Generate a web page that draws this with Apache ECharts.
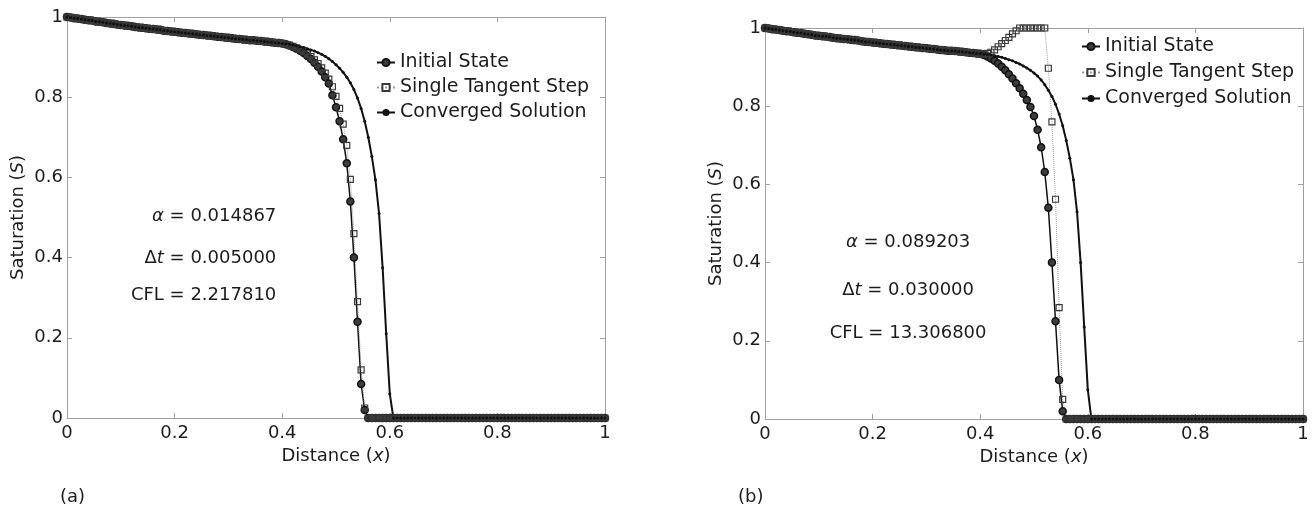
<!DOCTYPE html>
<html>
<head>
<meta charset="utf-8">
<script src="https://cdn.jsdelivr.net/npm/echarts@6/dist/echarts.min.js"></script>
<style>
  html, body { margin: 0; padding: 0; background: #ffffff; }
  #chart { width: 1315px; height: 512px; }
</style>
</head>
<body>
<div id="chart"></div>
<script>
// Saturation profiles S(x) on a uniform mesh of N_CELLS cells over 0 <= x <= 1.
const N_CELLS = 150;
const SERIES_NAMES = ['Initial State', 'Single Tangent Step', 'Converged Solution'];
const TICKS = [0, 0.2, 0.4, 0.6, 0.8, 1];

// ---- panel (a): alpha = 0.014867, dt = 0.005 ----
const A_INIT = [
  1.000, .999, .997, .996, .995, .993, .992, .991, .989, .988,
  .987, .985, .984, .983, .981, .980, .979, .978, .977, .975,
  .974, .973, .972, .971, .970, .969, .968, .966, .965, .964,
  .963, .962, .961, .960, .959, .958, .957, .956, .955, .954,
  .953, .952, .951, .950, .949, .948, .947, .946, .945, .944,
  .943, .942, .942, .941, .940, .939, .938, .937, .936, .935,
  .934, .932, .929, .925, .921, .916, .910, .903, .895, .886,
  .876, .864, .850, .834, .805, .775, .740, .695, .635, .540,
  .400, .240, .085, .020, 0, 0, 0, 0, 0, 0,
  0, 0, 0, 0, 0, 0, 0, 0, 0, 0,
  0, 0, 0, 0, 0, 0, 0, 0, 0, 0,
  0, 0, 0, 0, 0, 0, 0, 0, 0, 0,
  0, 0, 0, 0, 0, 0, 0, 0, 0, 0,
  0, 0, 0, 0, 0, 0, 0, 0, 0, 0,
  0, 0, 0, 0, 0, 0, 0, 0, 0, 0,
  0
];
const A_STEP = [
  1.000, .999, .997, .996, .995, .993, .992, .991, .989, .988,
  .987, .985, .984, .983, .981, .980, .979, .978, .977, .975,
  .974, .973, .972, .971, .970, .969, .968, .966, .965, .964,
  .963, .962, .961, .960, .959, .958, .957, .956, .955, .954,
  .953, .952, .951, .950, .949, .948, .947, .946, .945, .944,
  .943, .942, .942, .941, .940, .939, .938, .937, .936, .935,
  .934, .932, .930, .927, .923, .919, .914, .908, .901, .893,
  .884, .873, .860, .845, .826, .802, .772, .733, .680, .595,
  .460, .290, .120, .025, 0, 0, 0, 0, 0, 0,
  0, 0, 0, 0, 0, 0, 0, 0, 0, 0,
  0, 0, 0, 0, 0, 0, 0, 0, 0, 0,
  0, 0, 0, 0, 0, 0, 0, 0, 0, 0,
  0, 0, 0, 0, 0, 0, 0, 0, 0, 0,
  0, 0, 0, 0, 0, 0, 0, 0, 0, 0,
  0, 0, 0, 0, 0, 0, 0, 0, 0, 0,
  0
];
const A_CONV = [
  1.000, .999, .997, .996, .995, .993, .992, .991, .989, .988,
  .987, .985, .984, .983, .981, .980, .979, .978, .977, .975,
  .974, .973, .972, .971, .970, .969, .968, .966, .965, .964,
  .963, .962, .961, .960, .959, .958, .957, .956, .955, .954,
  .953, .952, .951, .950, .949, .948, .947, .946, .945, .944,
  .943, .942, .942, .941, .940, .939, .938, .937, .936, .935,
  .934, .933, .932, .930, .928, .926, .924, .921, .918, .915,
  .911, .907, .902, .896, .889, .881, .872, .862, .850, .836,
  .819, .798, .772, .740, .700, .652, .594, .510, .375, .210,
  .060, 0, 0, 0, 0, 0, 0, 0, 0, 0,
  0, 0, 0, 0, 0, 0, 0, 0, 0, 0,
  0, 0, 0, 0, 0, 0, 0, 0, 0, 0,
  0, 0, 0, 0, 0, 0, 0, 0, 0, 0,
  0, 0, 0, 0, 0, 0, 0, 0, 0, 0,
  0, 0, 0, 0, 0, 0, 0, 0, 0, 0,
  0
];

// ---- panel (b): alpha = 0.089203, dt = 0.03 ----
const B_INIT = [
  1.000, .999, .997, .996, .995, .993, .992, .991, .989, .988,
  .987, .985, .984, .983, .981, .980, .979, .978, .977, .975,
  .974, .973, .972, .971, .970, .969, .968, .966, .965, .964,
  .963, .962, .961, .960, .959, .958, .957, .956, .955, .954,
  .953, .952, .951, .950, .949, .948, .947, .946, .945, .944,
  .943, .942, .942, .941, .940, .939, .938, .937, .936, .935,
  .934, .931, .927, .922, .916, .909, .901, .892, .882, .871,
  .859, .846, .832, .816, .798, .775, .740, .695, .632, .540,
  .400, .250, .100, .020, 0, 0, 0, 0, 0, 0,
  0, 0, 0, 0, 0, 0, 0, 0, 0, 0,
  0, 0, 0, 0, 0, 0, 0, 0, 0, 0,
  0, 0, 0, 0, 0, 0, 0, 0, 0, 0,
  0, 0, 0, 0, 0, 0, 0, 0, 0, 0,
  0, 0, 0, 0, 0, 0, 0, 0, 0, 0,
  0, 0, 0, 0, 0, 0, 0, 0, 0, 0,
  0
];
const B_STEP = [
  1.000, .999, .997, .996, .995, .993, .992, .991, .989, .988,
  .987, .985, .984, .983, .981, .980, .979, .978, .977, .975,
  .974, .973, .972, .971, .970, .969, .968, .966, .965, .964,
  .963, .962, .961, .960, .959, .958, .957, .956, .955, .954,
  .953, .952, .951, .950, .949, .948, .947, .946, .945, .944,
  .943, .942, .942, .941, .940, .939, .938, .937, .936, .935,
  .934, .934, .935, .938, .944, .952, .960, .968, .976, .985,
  .993, 1, 1, 1, 1, 1, 1, 1, 1, .897,
  .760, .562, .285, .050, 0, 0, 0, 0, 0, 0,
  0, 0, 0, 0, 0, 0, 0, 0, 0, 0,
  0, 0, 0, 0, 0, 0, 0, 0, 0, 0,
  0, 0, 0, 0, 0, 0, 0, 0, 0, 0,
  0, 0, 0, 0, 0, 0, 0, 0, 0, 0,
  0, 0, 0, 0, 0, 0, 0, 0, 0, 0,
  0, 0, 0, 0, 0, 0, 0, 0, 0, 0,
  0
];
const B_CONV = [
  1.000, .999, .997, .996, .995, .993, .992, .991, .989, .988,
  .987, .985, .984, .983, .981, .980, .979, .978, .977, .975,
  .974, .973, .972, .971, .970, .969, .968, .966, .965, .964,
  .963, .962, .961, .960, .959, .958, .957, .956, .955, .954,
  .953, .952, .951, .950, .949, .948, .947, .946, .945, .944,
  .943, .942, .942, .941, .940, .939, .938, .937, .936, .935,
  .934, .933, .932, .931, .929, .927, .925, .922, .919, .916,
  .912, .908, .903, .898, .892, .885, .877, .867, .855, .841,
  .825, .805, .780, .750, .712, .667, .612, .530, .400, .235,
  .075, 0, 0, 0, 0, 0, 0, 0, 0, 0,
  0, 0, 0, 0, 0, 0, 0, 0, 0, 0,
  0, 0, 0, 0, 0, 0, 0, 0, 0, 0,
  0, 0, 0, 0, 0, 0, 0, 0, 0, 0,
  0, 0, 0, 0, 0, 0, 0, 0, 0, 0,
  0, 0, 0, 0, 0, 0, 0, 0, 0, 0,
  0
];

const A_NOTES = [['\u03b1', '', '0.014867'], ['\u0394', 't', '0.005000'], ['CFL', '', '2.217810']];
const B_NOTES = [['\u03b1', '', '0.089203'], ['\u0394', 't', '0.030000'], ['CFL', '', '13.306800']];

// ---- layout ----
const FONT = 'DejaVu Sans';
const INK = '#1c1c1c';
const FRAME = '#a0a0a0';
const PANELS = [
  { grid: { left: 67, top: 17, width: 538, height: 401 },
    data: [A_INIT, A_STEP, A_CONV], notes: A_NOTES, tag: '(a)', tagAt: [60, 488],
    legendAt: [376, 53], legendGap: 6,
    noteAlign: 'right', noteX: 0.389, noteY: [0.502, 0.399, 0.307] },
  { grid: { left: 765, top: 28, width: 538, height: 391 },
    data: [B_INIT, B_STEP, B_CONV], notes: B_NOTES, tag: '(b)', tagAt: [738, 488],
    legendAt: [1081, 37], legendGap: 7,
    noteAlign: 'center', noteX: 0.266, noteY: [0.451, 0.33, 0.219] }
];

const SERIES_STYLE = [
  { symbol: 'circle', symbolSize: 7,
    itemStyle: { color: '#3c3c3c', borderColor: '#111111', borderWidth: 1.5 },
    lineStyle: { color: '#111111', width: 1.5 } },
  { symbol: 'rect', symbolSize: 6,
    itemStyle: { color: 'rgba(255,255,255,0)', borderColor: '#3a3a3a', borderWidth: 1.2 },
    lineStyle: { color: '#9a9a9a', width: 1, type: 'dotted' } },
  { symbol: 'circle', symbolSize: 3,
    itemStyle: { color: '#111111', borderWidth: 0 },
    lineStyle: { color: '#111111', width: 2 } }
];

const labelStyle = { color: INK, fontSize: 18, fontFamily: FONT };
const italic = { fontStyle: 'italic', fontSize: 18, fontFamily: FONT, color: INK };

function frameAxis(gridIndex, position) {
  return {
    gridIndex, type: 'value', position, min: 0, max: 1, interval: 0.2,
    axisLine: { onZero: false, lineStyle: { color: FRAME, width: 1 } },
    axisTick: { inside: true, length: 5, lineStyle: { color: FRAME } },
    axisLabel: { show: false },
    splitLine: { show: false }
  };
}

const grid = [], xAxis = [], yAxis = [], series = [], legend = [], graphic = [];
PANELS.forEach((p, k) => {
  grid.push(Object.assign({ containLabel: false }, p.grid));
  xAxis.push(Object.assign(frameAxis(k, 'bottom'), {
    axisLabel: Object.assign({ show: true, margin: 6 }, labelStyle),
    name: 'Distance ({i|x})', nameLocation: 'middle', nameGap: 28,
    nameTextStyle: Object.assign({ rich: { i: italic } }, labelStyle)
  }));
  xAxis.push(frameAxis(k, 'top'));
  yAxis.push(Object.assign(frameAxis(k, 'left'), {
    axisLabel: Object.assign({ show: true, margin: 4 }, labelStyle),
    name: 'Saturation ({i|S})', nameLocation: 'middle', nameGap: 40, nameRotate: 90,
    nameTextStyle: Object.assign({ rich: { i: italic } }, labelStyle)
  }));
  yAxis.push(frameAxis(k, 'right'));

  p.data.forEach((vals, s) => {
    series.push(Object.assign({
      name: SERIES_NAMES[s], type: 'line',
      xAxisIndex: 2 * k, yAxisIndex: 2 * k,
      showAllSymbol: true, animation: false, silent: true,
      data: vals.map((v, i) => [i / N_CELLS, v])
    }, SERIES_STYLE[s]));
  });

  legend.push({
    data: SERIES_NAMES, orient: 'vertical', selectedMode: false,
    left: p.legendAt[0], top: p.legendAt[1], padding: 0,
    itemWidth: 18, itemHeight: 9, itemGap: p.legendGap,
    textStyle: { color: INK, fontSize: 19, fontFamily: FONT, lineHeight: 19 }
  });

  graphic.push({
    type: 'text', left: p.tagAt[0], top: p.tagAt[1],
    style: { text: p.tag, fill: INK, font: '18px "DejaVu Sans"' }
  });
});

const chart = echarts.init(document.getElementById('chart'), null, { renderer: 'canvas' });
chart.setOption({
  backgroundColor: '#ffffff', animation: false,
  textStyle: { fontFamily: FONT },
  grid, xAxis, yAxis, series, legend, graphic
});

// Parameter annotations, anchored in data coordinates of each panel.
PANELS.forEach((p, k) => {
  p.notes.forEach((n, r) => {
    const pt = chart.convertToPixel({ gridIndex: k }, [p.noteX, p.noteY[r]]);
    graphic.push({
      type: 'text', x: pt[0], y: pt[1],
      style: {
        text: (n[0] === '\u03b1' ? '{i|\u03b1}' : n[0]) + (n[1] ? '{i|' + n[1] + '}' : '') + ' = ' + n[2],
        rich: { i: { fontStyle: 'italic', fontSize: 18, fontFamily: FONT, fill: INK } },
        fill: INK, fontSize: 18, fontFamily: FONT,
        align: p.noteAlign, verticalAlign: 'middle'
      }
    });
  });
});
chart.setOption({ graphic });
</script>
</body>
</html>
